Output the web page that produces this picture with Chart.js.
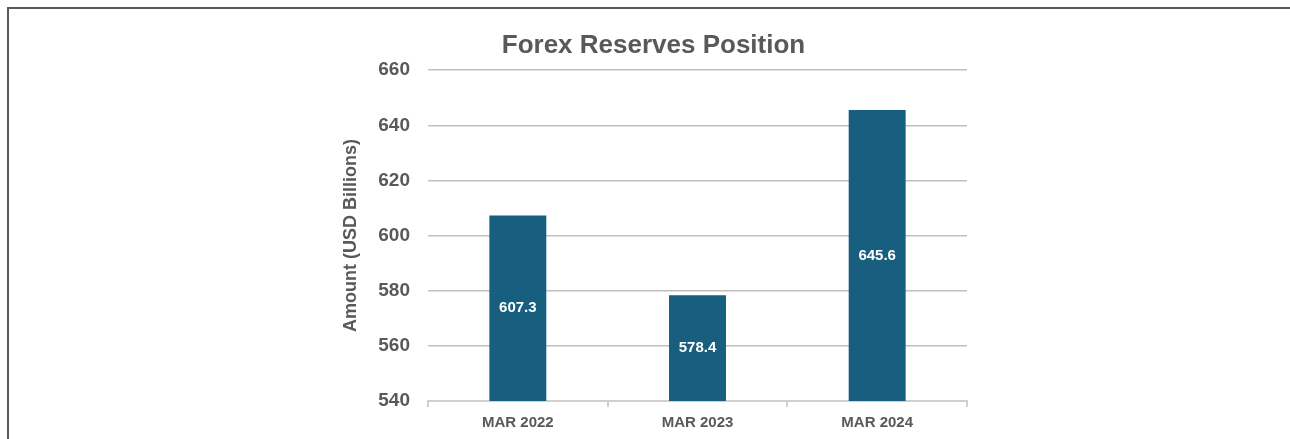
<!DOCTYPE html>
<html>
<head>
<meta charset="utf-8">
<script src="https://cdn.jsdelivr.net/npm/chart.js@4/dist/chart.umd.min.js"></script>
<style>
  html, body { margin: 0; padding: 0; background: #fff; overflow: hidden; }
  .frame {
    position: absolute; left: 7px; top: 7px; width: 1300px; height: 460px;
    border-top: 2px solid #595959; border-left: 2px solid #595959;
    box-sizing: border-box;
  }
  #chart { position: absolute; left: 0; top: 0; }
</style>
</head>
<body>
<div class="frame"></div>
<canvas id="chart" width="1290" height="439"></canvas>
<script>
const categories = ['MAR 2022', 'MAR 2023', 'MAR 2024'];
const reserves = [607.3, 578.4, 645.6];
const yTicks = [540, 560, 580, 600, 620, 640, 660];

const barColor = '#175e7f';
const textColor = '#595959';
const fontFamily = '"Liberation Sans", Arial, sans-serif';

// white value labels in the middle of each bar
const barLabels = {
    id: 'barLabels',
    afterDraw(chart) {
        const ctx = chart.ctx;
        const xScale = chart.scales.x;
        const yScale = chart.scales.y;
        ctx.save();
        ctx.fillStyle = '#ffffff';
        ctx.font = 'bold 15px ' + fontFamily;
        ctx.textAlign = 'center';
        ctx.textBaseline = 'middle';
        reserves.forEach((v, i) => {
            const x = xScale.getPixelForValue(i);
            const mid = (yScale.getPixelForValue(v) + yScale.bottom) / 2;
            ctx.fillText(v.toFixed(1), x, mid);
        });
        ctx.restore();
    }
};

new Chart(document.getElementById('chart'), {
    type: 'bar',
    data: {
        labels: categories,
        datasets: [{
            data: reserves,
            backgroundColor: barColor,
            barPercentage: 0.317,
            categoryPercentage: 1
        }]
    },
    options: {
        responsive: false,
        animation: false,
        layout: {
            padding: { left: 340, right: 323, top: 0, bottom: 6 }
        },
        plugins: {
            legend: { display: false },
            tooltip: { enabled: false },
            title: {
                display: true,
                text: 'Forex Reserves Position',
                color: textColor,
                font: { family: fontFamily, size: 26, weight: 'bold' },
                padding: { top: 30, bottom: 9 }
            }
        },
        scales: {
            x: {
                afterFit(scale) {
                    scale.height = 32;
                },
                grid: {
                    drawOnChartArea: false,
                    drawTicks: true,
                    tickLength: 6,
                    color: '#d0d0d0',
                    lineWidth: 2
                },
                border: { color: '#d0d0d0', width: 2 },
                ticks: {
                    color: textColor,
                    padding: 7,
                    font: { family: fontFamily, size: 15, weight: 'bold' }
                }
            },
            y: {
                min: yTicks[0],
                max: yTicks[yTicks.length - 1],
                afterBuildTicks(scale) {
                    scale.ticks = yTicks.map(v => ({ value: v }));
                },
                afterFit(scale) {
                    scale.width = 88;
                },
                grid: {
                    drawTicks: false,
                    color: '#bfbfbf',
                    lineWidth: 1.5
                },
                border: { display: false },
                ticks: {
                    color: textColor,
                    padding: 18,
                    font: { family: fontFamily, size: 19, weight: 'bold' }
                },
                title: {
                    display: true,
                    text: 'Amount (USD Billions)',
                    color: textColor,
                    padding: { top: 0, bottom: 0 },
                    font: { family: fontFamily, size: 18, weight: 'bold' }
                }
            }
        }
    },
    plugins: [barLabels]
});
</script>
</body>
</html>
